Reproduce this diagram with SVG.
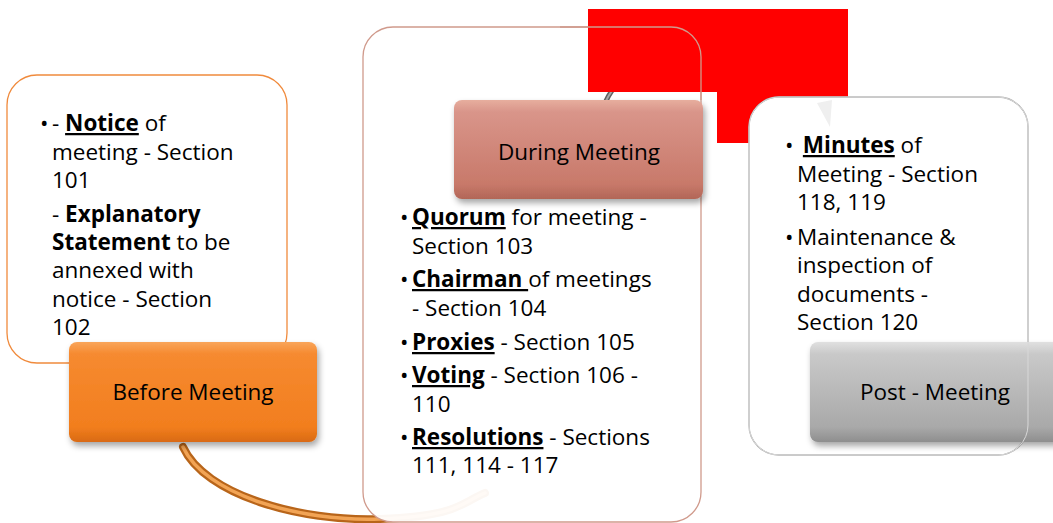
<svg xmlns="http://www.w3.org/2000/svg" width="1053" height="523" viewBox="0 0 1053 523">
<style>
.t{font-family:"Open Sans","Noto Sans","DejaVu Sans",sans-serif;font-size:22.5px;fill:#000;white-space:pre}
.lbl{font-family:"Open Sans","Noto Sans","DejaVu Sans",sans-serif;font-size:22.5px;fill:#000;text-anchor:middle}
.b{font-weight:bold}
.u{font-weight:bold;text-decoration:underline}
</style>
<defs>
<linearGradient id="gOr" x1="0" y1="0" x2="0" y2="1">
<stop offset="0" stop-color="#F9A55A"/><stop offset="0.12" stop-color="#F68A30"/><stop offset="0.85" stop-color="#F27E1E"/><stop offset="1" stop-color="#D96A12"/>
</linearGradient>
<linearGradient id="gSa" x1="0" y1="0" x2="0" y2="1">
<stop offset="0" stop-color="#E7AE9E"/><stop offset="0.12" stop-color="#D9958A"/><stop offset="0.85" stop-color="#C8796A"/><stop offset="1" stop-color="#B26657"/>
</linearGradient>
<linearGradient id="gGr" x1="0" y1="0" x2="0" y2="1">
<stop offset="0" stop-color="#E0E0E0"/><stop offset="0.12" stop-color="#C9C9C9"/><stop offset="0.85" stop-color="#A9A9A9"/><stop offset="1" stop-color="#8E8E8E"/>
</linearGradient>
<filter id="sh" x="-10%" y="-10%" width="130%" height="140%">
<feDropShadow dx="2" dy="4" stdDeviation="3" flood-color="#000" flood-opacity="0.35"/>
</filter>
</defs>

<g id="connectors">
<path d="M183,447 C205,495 300,522 380,519 S460,503 485,493" fill="none" stroke="#B8651A" stroke-width="8" stroke-linecap="round"/>
<path d="M183,447 C205,495 300,522 380,519 S460,503 485,493" fill="none" stroke="#F2A455" stroke-width="3.5" stroke-linecap="round"/>
</g>

<g id="before-text-box">
<rect x="7" y="75" width="280" height="288" rx="30" fill="#fff" fill-opacity="0.92" stroke="#F08A3C" stroke-width="1.3"/>
<text class="t" x="40" y="131">•</text>
<text class="t" x="52" y="131">- <tspan class="u">Notice</tspan> of</text>
<text class="t" x="52" y="160">meeting - Section</text>
<text class="t" x="52" y="188">101</text>
<text class="t" x="52" y="222">- <tspan class="b">Explanatory</tspan></text>
<text class="t" x="52" y="250"><tspan class="b">Statement</tspan> to be</text>
<text class="t" x="52" y="278">annexed with</text>
<text class="t" x="52" y="307">notice - Section</text>
<text class="t" x="52" y="335">102</text>
</g>

<g id="during-text-box">
<rect x="363" y="27" width="338" height="495" rx="30" fill="#fff" fill-opacity="0.95" stroke="none"/>
<path d="M605,103 C640,25 790,30 828,118" fill="none" stroke="#606060" stroke-width="5"/>
<path d="M605,103 C640,25 790,30 828,118" fill="none" stroke="#A8A8A8" stroke-width="2"/>
<rect x="363" y="27" width="338" height="495" rx="30" fill="none" stroke="#D09A8C" stroke-width="1.3"/>
<text class="t" x="400" y="225">•</text>
<text class="t" x="412" y="225"><tspan class="u">Quorum</tspan> for meeting -</text>
<text class="t" x="412" y="254">Section 103</text>
<text class="t" x="400" y="287">•</text>
<text class="t" x="412" y="287"><tspan class="u">Chairman </tspan>of meetings</text>
<text class="t" x="412" y="316">- Section 104</text>
<text class="t" x="400" y="350">•</text>
<text class="t" x="412" y="350"><tspan class="u">Proxies</tspan> - Section 105</text>
<text class="t" x="400" y="383">•</text>
<text class="t" x="412" y="383"><tspan class="u">Voting</tspan> - Section 106 -</text>
<text class="t" x="412" y="412">110</text>
<text class="t" x="400" y="445">•</text>
<text class="t" x="412" y="445"><tspan class="u">Resolutions</tspan> - Sections</text>
<text class="t" x="412" y="473">111, 114 - 117</text>
</g>

<g id="before-meeting">
<rect x="69" y="342" width="248" height="100" rx="8" fill="url(#gOr)" filter="url(#sh)"/>
<text class="lbl" x="193" y="400">Before Meeting</text>
</g>

<g id="during-meeting">
<rect x="454" y="100" width="249" height="99" rx="8" fill="url(#gSa)" filter="url(#sh)"/>
<text class="lbl" x="579" y="160">During Meeting</text>
</g>

<g id="redaction">
<path d="M588,9 H848 V143 H717 V92 H588 Z" fill="#FF0000"/>
<path d="M560,27 H671 A30,30 0 0 1 701,57 V100" fill="none" stroke="#D09A8C" stroke-width="1.3"/>
</g>

<g id="post-text-box">
<rect x="749" y="97" width="279" height="358" rx="30" fill="#fff" stroke="#A8A8A8" stroke-width="1.3"/>
<path d="M817,103 L832,100 L830,127 Z" fill="#EFEFEF"/>
<text class="t" x="785" y="153">•</text>
<text class="t" x="797" y="153"> <tspan class="u">Minutes</tspan> of</text>
<text class="t" x="797" y="182">Meeting - Section</text>
<text class="t" x="797" y="210">118, 119</text>
<text class="t" x="785" y="245">•</text>
<text class="t" x="797" y="245">Maintenance &amp;</text>
<text class="t" x="797" y="273">inspection of</text>
<text class="t" x="797" y="302">documents -</text>
<text class="t" x="797" y="330">Section 120</text>
</g>

<g id="post-meeting">
<rect x="810" y="342" width="255" height="100" rx="8" fill="url(#gGr)" filter="url(#sh)"/>
<text class="lbl" x="935" y="400">Post - Meeting</text>
<rect x="749" y="97" width="279" height="358" rx="30" fill="none" stroke="#D8D8D8" stroke-width="1"/>
</g>
</svg>
